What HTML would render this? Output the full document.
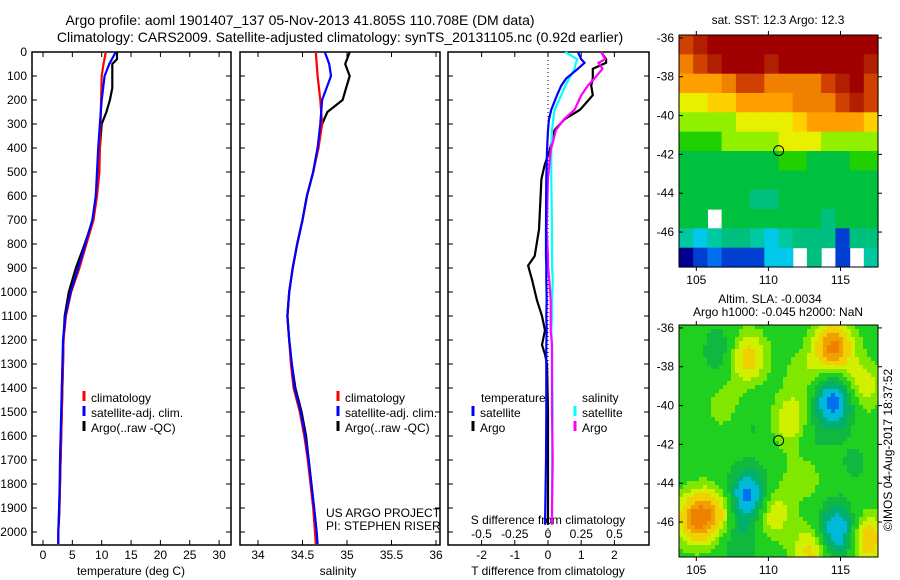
<!DOCTYPE html>
<html><head><meta charset="utf-8"><style>
body{margin:0;background:#fff;}
svg{display:block;font-family:"Liberation Sans",sans-serif;}
</style></head><body>
<svg id="fig" width="900" height="580" viewBox="0 0 900 580">
<text x="300" y="25" font-size="14" text-anchor="middle">Argo profile: aoml 1901407_137 05-Nov-2013 41.805S 110.708E (DM data)</text>
<text x="340" y="42" font-size="14" text-anchor="middle">Climatology: CARS2009. Satellite-adjusted climatology: synTS_20131105.nc (0.92d earlier)</text>
<g id="g1"></g>
<g id="g2"></g>
<g id="g3"></g>
<g id="m1"></g>
<g id="m2"></g>
<text x="0" y="0" font-size="12" text-anchor="middle" transform="translate(892,450) rotate(-90)">©IMOS 04-Aug-2017 18:37:52</text>
</svg>
<script>
// ---- profile data ----
const tClimDepth=[0,50,100,200,300,400,500,600,700,800,900,1000,1100,1200,1300,1400,1500,1600,1700,1800,1900,2000,2050];
const tClim=[10.7,10.3,10.0,9.9,9.8,9.7,9.6,9.2,8.6,7.4,6.2,4.8,3.9,3.5,3.4,3.3,3.2,3.1,3.0,2.9,2.8,2.6,2.6];
const tSat=[12.4,11.3,10.5,10.0,9.7,9.4,9.2,9.0,8.4,7.2,6.0,4.7,3.8,3.4,3.3,3.2,3.1,3.0,2.9,2.85,2.75,2.6,2.6];
const tArgoDepth=[0,30,50,100,150,200,250,300,400,500,600,700,800,900,1000,1100,1200,1300,1400,1500,1600,1700,1800,1900,1970];
const tArgo=[12.6,12.6,11.8,11.8,11.8,11.4,10.8,10.0,9.7,9.4,9.0,8.5,7.1,5.6,4.4,3.7,3.5,3.4,3.3,3.2,3.1,3.0,2.9,2.8,2.7];
const sClim=[34.65,34.66,34.67,34.7,34.72,34.68,34.62,34.55,34.5,34.44,34.39,34.35,34.33,34.35,34.37,34.4,34.47,34.52,34.56,34.59,34.62,34.64,34.65];
const sSat=[34.75,34.8,34.82,34.72,34.7,34.67,34.62,34.55,34.5,34.44,34.39,34.35,34.33,34.35,34.38,34.41,34.48,34.53,34.57,34.6,34.63,34.66,34.67];
const sArgo=[35.03,35.0,34.98,35.03,34.99,34.95,34.78,34.72,34.67,34.62,34.55,34.5,34.44,34.39,34.35,34.33,34.35,34.38,34.42,34.49,34.54,34.57,34.6,34.63,34.65];
const dDepth=[0,30,45,70,110,140,180,240,280,325,410,470,530,740,850,890,950,1035,1100,1160,1220,1260,1300,1500,1700,1900,1970];
const dTSat=[0.9,1.0,1.1,0.9,0.55,0.4,0.27,0.1,0.03,0,-0.03,-0.04,-0.05,-0.06,-0.06,-0.05,-0.05,-0.04,-0.05,-0.04,-0.05,-0.05,-0.05,-0.05,-0.06,-0.08,-0.09];
const dTArgo=[1.6,1.75,1.75,1.35,1.35,1.3,1.35,0.97,0.5,0.2,0.05,-0.1,-0.2,-0.27,-0.4,-0.6,-0.48,-0.33,-0.18,-0.09,-0.18,-0.09,-0.03,0,0,0,0];
const dSSat=[0.13,0.22,0.21,0.2,0.16,0.13,0.1,0.05,0.04,0.03,0.025,0.025,0.025,0.03,0.03,0.03,0.035,0.03,0.03,0.025,0.03,0.03,0.03,0.035,0.03,0.03,0.03];
const dSArgo=[0.4,0.43,0.38,0.41,0.35,0.3,0.25,0.2,0.12,0.06,0.02,0.01,0,-0.01,0,0,0.01,0.02,0.02,0.02,0.03,0.03,0.03,0.03,0.035,0.03,0.03];
const depthTicks=[0,100,200,300,400,500,600,700,800,900,1000,1100,1200,1300,1400,1500,1600,1700,1800,1900,2000];
const tTicks=[0,5,10,15,20,25,30];
const sTicks=[34,34.5,35,35.5,36];
const dtTicks=[-2,-1,0,1,2];
const dsTicks=[-0.5,-0.25,0,0.25,0.5];
const dsTickLabels=['-0.5','-0.25','0','0.25','0.5'];

const NS='http://www.w3.org/2000/svg';
function el(tag,attrs,parent,txt){const e=document.createElementNS(NS,tag);for(const k in attrs)e.setAttribute(k,attrs[k]);if(txt!==undefined)e.textContent=txt;parent.appendChild(e);return e;}
const TOP=52,BOT=545;
const yD=d=>TOP+d*0.24;
function panel(g,x0,x1,name){
  const r=el('rect',{x:x0,y:TOP,width:x1-x0,height:BOT-TOP,fill:'none',stroke:'#000','stroke-width':1.5},g);
  
  
  depthTicks.forEach(d=>{el('line',{x1:x0,x2:x0+5,y1:yD(d),y2:yD(d),stroke:'#000'},g);el('line',{x1:x1-5,x2:x1,y1:yD(d),y2:yD(d),stroke:'#000'},g);});
}
function line(g,xs,ds,fx,color,name,w){
  const pts=xs.map((v,i)=>fx(v).toFixed(1)+','+yD(ds[i]).toFixed(1)).join(' ');
  const p=el('polyline',{points:pts,fill:'none',stroke:color,'stroke-width':w||2.2},g);
  
  
}
function xticks(g,ticks,labels,fx,y,name){
  ticks.forEach((t,i)=>{el('line',{x1:fx(t),x2:fx(t),y1:BOT,y2:BOT-5,stroke:'#000'},g);el('line',{x1:fx(t),x2:fx(t),y1:TOP,y2:TOP+5,stroke:'#000'},g);
    const tx=el('text',{x:fx(t),y:y,'font-size':12,'text-anchor':'middle'},g,labels[i]);
    
    });
}
function legend(g,x,y,items){
  items.forEach((it,i)=>{el('line',{x1:x,x2:x,y1:y+i*15-11,y2:y+i*15-1,stroke:it[0],'stroke-width':3},g);
    const t=el('text',{x:x+7,y:y+i*15,'font-size':12},g,it[1]);
    
    });
}
// panel 1
const g1=document.getElementById('g1');
const fT=v=>43+v*5.87;
panel(g1,32,231,'temperature');
depthTicks.forEach(d=>{const t=el('text',{x:27,y:yD(d)+4,'font-size':12,'text-anchor':'end'},g1,String(d));
  
  });
xticks(g1,tTicks,tTicks.map(String),fT,559,'temperature');
el('text',{x:131,y:575,'font-size':12,'text-anchor':'middle'},g1,'temperature (deg C)');
line(g1,tArgo,tArgoDepth,fT,'#000','temp-argo-line');
line(g1,tClim,tClimDepth,fT,'#f00','temp-climatology-line');
line(g1,tSat,tClimDepth,fT,'#00f','temp-satellite-line');
legend(g1,84,402,[['#f00','climatology'],['#00f','satellite-adj. clim.'],['#000','Argo(..raw -QC)']]);
// panel 2
const g2=document.getElementById('g2');
const fS=v=>258+(v-34)*89;
panel(g2,240,440,'salinity');
xticks(g2,sTicks,sTicks.map(String),fS,559,'salinity');
el('text',{x:338,y:575,'font-size':12,'text-anchor':'middle'},g2,'salinity');
line(g2,sArgo,tArgoDepth,fS,'#000','sal-argo-line');
line(g2,sClim,tClimDepth,fS,'#f00','sal-climatology-line');
line(g2,sSat,tClimDepth,fS,'#00f','sal-satellite-line');
legend(g2,338,402,[['#f00','climatology'],['#00f','satellite-adj. clim.'],['#000','Argo(..raw -QC)']]);
el('text',{x:326,y:517,'font-size':12},g2,'US ARGO PROJECT');
el('text',{x:326,y:530,'font-size':12},g2,'PI: STEPHEN RISER');
// panel 3
const g3=document.getElementById('g3');
const fDT=v=>548+v*33.2, fDS=v=>548+v*133;
panel(g3,448,649,'difference');
el('line',{x1:548,x2:548,y1:TOP,y2:BOT,stroke:'#000','stroke-dasharray':'1,3'},g3);
xticks(g3,dtTicks,dtTicks.map(String),fDT,559,'t-diff');
el('text',{x:548,y:575,'font-size':12,'text-anchor':'middle'},g3,'T difference from climatology');
dsTicks.forEach((t,i)=>{const tx=el('text',{x:fDS(t),y:538,'font-size':12,'text-anchor':'middle'},g3,dsTickLabels[i]);
  
  });
el('text',{x:548,y:524,'font-size':12,'text-anchor':'middle'},g3,'S difference from climatology');
line(g3,dTArgo,dDepth,fDT,'#000','tdiff-argo-line');
line(g3,dSSat,dDepth,fDS,'#0ff','sdiff-satellite-line');
line(g3,dSArgo,dDepth,fDS,'#f0f','sdiff-argo-line');
line(g3,dTSat,dDepth,fDT,'#00f','tdiff-satellite-line');
el('text',{x:481,y:402,'font-size':12},g3,'temperature');
el('text',{x:582,y:402,'font-size':12},g3,'salinity');
legend(g3,473,417,[['#00f','satellite'],['#000','Argo']]);
legend(g3,575,417,[['#0ff','satellite'],['#f0f','Argo']]);

// ---- maps ----
const sstGrid=[
[15,15.5,16,16,16,16,16,16,16,16,16,16,16,16],
[14.5,15,15.5,16,16,16,15.5,16,16,16,16,16,16,15.5],
[14,14,14,14.5,15,15,14.5,14.5,14.5,14.5,15,15.5,16,15],
[13,13,13.5,13.5,14,14,14,14,14.5,14.5,14.5,15,15.5,15],
[12.5,12.5,12.5,12.5,13,13,13,13,13.5,14,14,14,14,13.5],
[12,12,12,12.5,12.5,12.5,12.5,13,13,13,12.5,12.5,12.5,12.5],
[11.5,11.5,11.5,11.5,11.5,11.5,11.5,12,12,11.5,11.5,11.5,12,12],
[11.5,11.5,11.5,11.5,11.5,11.5,11.5,11.5,11.5,11.5,11.5,11.5,11.5,11.5],
[11.5,11.5,11.5,11.5,11.5,11,11,11.5,11.5,11.5,11.5,11.5,11.5,11.5],
[11.5,11.5,null,11.5,11.5,11.5,11.5,11.5,11.5,11.5,11,11.5,11.5,11.5],
[10.5,10,10.5,11,11,10.5,10,10.5,11,11,11,9,11,11],
[8.5,9,9.5,9,9,9,10,10,null,11,null,9,null,10.5]];
const slaLon=[108.5,114.5,114.5,108.6,105.0,114.8,116.8,111.5,110.2,106.5,106.8,113.0,116.5,112.5,108.0,113.0,109.0,116.0,107.0,112.5];
const slaLat=[-37.5,-37.0,-39.8,-44.7,-45.8,-46.5,-46.9,-40.8,-45.5,-45.5,-37.2,-47.5,-39.0,-43.5,-47.0,-42.0,-41.0,-43.0,-40.0,-38.5];
const slaAmp=[0.2,0.3,-0.3,-0.3,0.28,-0.28,0.22,0.15,0.16,0.15,-0.1,0.18,0.14,0.09,-0.1,-0.06,-0.05,-0.05,0.07,0.08];
const LON0=103.8,LON1=117.6,LAT0=-35.85,LAT1=-47.8;
function mapAxes(g,x0,y0,w,h,name){
  const fx=lon=>x0+(lon-LON0)/(LON1-LON0)*w, fy=lat=>y0+(LAT0-lat)/(LAT0-LAT1)*h;
  const r=el('rect',{x:x0,y:y0,width:w,height:h,fill:'none',stroke:'#000'},g);
  
  
  [-36,-38,-40,-42,-44,-46].forEach(l=>{el('line',{x1:x0,x2:x0+4,y1:fy(l),y2:fy(l),stroke:'#000'},g);el('line',{x1:x0+w,x2:x0+w+4,y1:fy(l),y2:fy(l),stroke:'#000'},g);
    el('text',{x:x0-5,y:fy(l)+4,'font-size':12,'text-anchor':'end'},g,String(l));});
  [105,110,115].forEach(l=>{el('line',{x1:fx(l),x2:fx(l),y1:y0,y2:y0-4,stroke:'#000'},g);el('line',{x1:fx(l),x2:fx(l),y1:y0+h,y2:y0+h+4,stroke:'#000'},g);
    el('text',{x:fx(l),y:y0+h+17,'font-size':12,'text-anchor':'middle'},g,String(l));});
  const c=el('circle',{cx:fx(110.708),cy:fy(-41.805),r:5,fill:'none',stroke:'#000'},g);
  
  
  return [fx,fy];
}
function sstColor(v){
  const s=[[8.5,'#000090'],[9,'#0040d0'],[9.5,'#0070f0'],[10,'#00c8e8'],[10.5,'#00c8a0'],[11,'#00c080'],[11.5,'#00c040'],[12,'#20d000'],[12.5,'#90f000'],[13,'#e8f000'],[13.5,'#ffd000'],[14,'#ffa000'],[14.5,'#f08000'],[15,'#d04000'],[15.5,'#b02000'],[16,'#a00000']];
  for(const c of s) if(v<=c[0]) return c[1]; return '#a00000';
}
function slaColor(v){
  const s=[[-0.25,'#0070f0'],[-0.17,'#00b8d8'],[-0.1,'#00b070'],[-0.04,'#10b840'],[0.04,'#20d020'],[0.09,'#80e800'],[0.15,'#d0f000'],[0.22,'#f0d000'],[0.28,'#f0a000']];
  for(const c of s) if(v<=c[0]) return c[1]; return '#f08000';
}
const m1=document.getElementById('m1');
el('text',{x:778,y:24,'font-size':12,'text-anchor':'middle'},m1,'sat. SST: 12.3 Argo: 12.3');
(function(){
  const x0=679,y0=35,w=199,h=232;
  const cw=w/14, ch=h/12;
  sstGrid.forEach((row,i)=>row.forEach((v,j)=>{
    if(v===null) return;
    el('rect',{x:(x0+j*cw).toFixed(1),y:(y0+i*ch).toFixed(1),width:(cw+0.6).toFixed(1),height:(ch+0.6).toFixed(1),fill:sstColor(v)},m1);
  }));
  mapAxes(m1,x0,y0,w,h,'sst-map');
})();
const m2=document.getElementById('m2');
el('text',{x:770,y:303,'font-size':12,'text-anchor':'middle'},m2,'Altim. SLA: -0.0034');
el('text',{x:778,y:316,'font-size':12,'text-anchor':'middle'},m2,'Argo h1000: -0.045 h2000: NaN');
(function(){
  const x0=679,y0=325,w=199,h=232,cs=4;
  for(let y=0;y<h;y+=cs)for(let x=0;x<w;x+=cs){
    const lon=LON0+(x+2)/w*(LON1-LON0), lat=LAT0-(y+2)/h*(LAT0-LAT1);
    let v=0;
    for(let k=0;k<slaLon.length;k++){const dx=lon-slaLon[k],dy=lat-slaLat[k];v+=slaAmp[k]*Math.exp(-(dx*dx+dy*dy)/1.8);}
    el('rect',{x:x0+x,y:y0+y,width:Math.min(cs,w-x),height:Math.min(cs,h-y),fill:slaColor(v)},m2);
  }
  mapAxes(m2,x0,y0,w,h,'sla-map');
})();
</script>
</body></html>
